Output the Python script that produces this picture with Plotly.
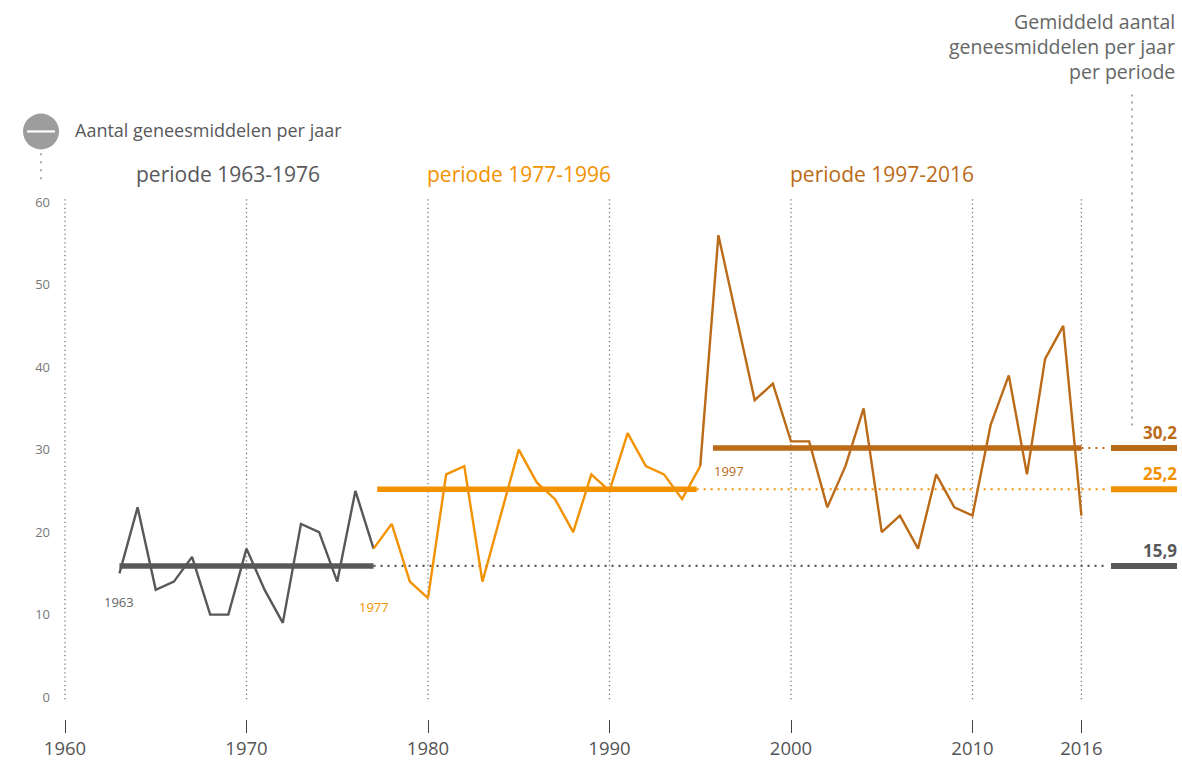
import plotly.graph_objects as go

# ---------------- data ----------------
years = list(range(1963, 2017))
values = [15, 23, 13, 14, 17, 10, 10, 18, 13, 9, 21, 20, 14, 25,          # 1963-1976
          18, 21, 14, 12, 27, 28, 14, 22, 30, 26, 24, 20, 27, 25, 32, 28,  # 1977-1992
          27, 24, 28, 56,                                                  # 1993-1996
          46, 36, 38, 31, 31, 23, 28, 35, 20, 22, 18, 27, 23, 22, 33, 39,  # 1997-2012
          27, 41, 45, 22]                                                  # 2013-2016

period_names = ["periode 1963-1976", "periode 1977-1996", "periode 1997-2016"]
period_label_x = [1969, 1985, 2005]
period_avg = [15.9, 25.2, 30.2]
period_avg_text = ["15,9", "25,2", "30,2"]
period_colors = ["#58585a", "#f39200", "#bb6a17"]
# which part of the yearly line is drawn in each colour (first year, last year)
line_segments = [(1963, 1977), (1977, 1995), (1995, 2016)]
avg_segments = [(1963, 1977), (1977.2, 1994.8), (1995.7, 2016)]
start_labels = ["1963", "1977", "1997"]
start_label_pos = [(1963, 11.5), (1977, 10.9), (1996.6, 27.4)]

x_ticks = [1960, 1970, 1980, 1990, 2000, 2010, 2016]
y_ticks = [0, 10, 20, 30, 40, 50, 60]

# ---------------- geometry ----------------
W, H = 1182, 760
L, B = 55, 38           # margins
PX_PER_YEAR = 18.15
PX_1980 = 428
PX_PER_UNIT = 8.283
PY_ZERO = 700

x_lo = 1980 - (PX_1980 - L) / PX_PER_YEAR
x_hi = 1980 + (W - PX_1980) / PX_PER_YEAR
y_lo = (PY_ZERO - (H - B)) / PX_PER_UNIT
y_hi = PY_ZERO / PX_PER_UNIT

def px_x(px):
    return 1980 + (px - PX_1980) / PX_PER_YEAR

def px_y(py):
    return (PY_ZERO - py) / PX_PER_UNIT

def paper_x(px):
    return (px - L) / (W - L)

def paper_y(py):
    return ((H - B) - py) / (H - B)

FONT = "'Open Sans', Lato, sans-serif"
bar_x0, bar_x1 = px_x(1111), px_x(1177)

fig = go.Figure()

# vertical dotted gridlines
for xv in x_ticks:
    fig.add_shape(type="line", xref="x", yref="y", x0=xv, x1=xv,
                  y0=px_y(200), y1=px_y(705),
                  line=dict(color="#7a7a7a", width=1.3, dash="1.3px,3px"), layer="below")

# dotted level extensions
for i in range(3):
    fig.add_trace(go.Scatter(x=[avg_segments[i][1], bar_x0 - 0.15], y=[period_avg[i]] * 2,
                             mode="lines", hoverinfo="skip",
                             line=dict(color=period_colors[i], width=2.2, dash="2px,5px")))

# yearly lines
for i, (a, b) in enumerate(line_segments):
    xs = [y for y in years if a <= y <= b]
    ys = [values[years.index(y)] for y in xs]
    fig.add_trace(go.Scatter(x=xs, y=ys, mode="lines", hoverinfo="skip",
                             line=dict(color=period_colors[i], width=2.4)))

# average lines
for i in range(3):
    fig.add_trace(go.Scatter(x=list(avg_segments[i]), y=[period_avg[i]] * 2,
                             mode="lines", hoverinfo="skip",
                             line=dict(color=period_colors[i], width=5.5)))
    # right-hand bars
    fig.add_trace(go.Scatter(x=[bar_x0, bar_x1], y=[period_avg[i]] * 2,
                             mode="lines", hoverinfo="skip",
                             line=dict(color=period_colors[i], width=6)))
    fig.add_annotation(x=px_x(1179), y=period_avg[i], xref="x", yref="y",
                       text="<b>" + period_avg_text[i] + "</b>", showarrow=False,
                       xanchor="right", yanchor="bottom", yshift=2,
                       font=dict(family=FONT, size=17, color=period_colors[i]))
    fig.add_annotation(x=period_label_x[i], y=px_y(175), xref="x", yref="y",
                       text=period_names[i], showarrow=False,
                       font=dict(family=FONT, size=21, color=period_colors[i]))
    fig.add_annotation(x=start_label_pos[i][0], y=start_label_pos[i][1], xref="x", yref="y",
                       text=start_labels[i], showarrow=False,
                       font=dict(family=FONT, size=13,
                                 color=["#666666", "#f39200", "#bb6a17"][i]))

# right-hand dotted pointer line
fig.add_shape(type="line", xref="x", yref="y", x0=px_x(1132), x1=px_x(1132),
              y0=px_y(95), y1=px_y(428),
              line=dict(color="#aaaaaa", width=2, dash="2px,5px"))

# title on the right
for j, t in enumerate(["Gemiddeld aantal", "geneesmiddelen per jaar", "per periode"]):
    fig.add_annotation(x=px_x(1177), y=px_y(22 + 25 * j), xref="x", yref="y", text=t,
                       showarrow=False, xanchor="right", yanchor="middle",
                       font=dict(family=FONT, size=19.5, color="#666666"))

# legend symbol
fig.add_shape(type="circle", xref="paper", yref="paper",
              x0=paper_x(23), x1=paper_x(59), y0=paper_y(114), y1=paper_y(150),
              fillcolor="#9d9d9d", line=dict(width=0))
fig.add_shape(type="line", xref="paper", yref="paper",
              x0=paper_x(27), x1=paper_x(55), y0=paper_y(132), y1=paper_y(132),
              line=dict(color="white", width=2.2))
fig.add_shape(type="line", xref="paper", yref="paper",
              x0=paper_x(41), x1=paper_x(41), y0=paper_y(154), y1=paper_y(185),
              line=dict(color="#aaaaaa", width=2, dash="2px,6px"))
fig.add_annotation(x=paper_x(73), y=paper_y(131), xref="paper", yref="paper",
                   text="Aantal geneesmiddelen per jaar", showarrow=False,
                   xanchor="left", yanchor="middle",
                   font=dict(family=FONT, size=18, color="#58585a"))

fig.update_layout(
    width=W, height=H, showlegend=False,
    margin=dict(l=L, r=0, t=0, b=B),
    paper_bgcolor="white", plot_bgcolor="white",
    font=dict(family=FONT),
    xaxis=dict(range=[x_lo, x_hi], tickvals=x_ticks, ticktext=[str(v) for v in x_ticks],
               ticks="outside", ticklen=13, tickwidth=1, tickcolor="#444444",
               showgrid=False, zeroline=False, showline=False,
               tickfont=dict(family=FONT, size=18.5, color="#555555")),
    yaxis=dict(range=[y_lo, y_hi], tickvals=y_ticks, ticks="", ticklabelstandoff=4,
               showgrid=False, zeroline=False, showline=False,
               tickfont=dict(family=FONT, size=13, color="#777777")),
)

fig.write_html("out.html", config={"displayModeBar": False},
               post_script="document.body.style.margin='0';document.body.style.padding='0';")
